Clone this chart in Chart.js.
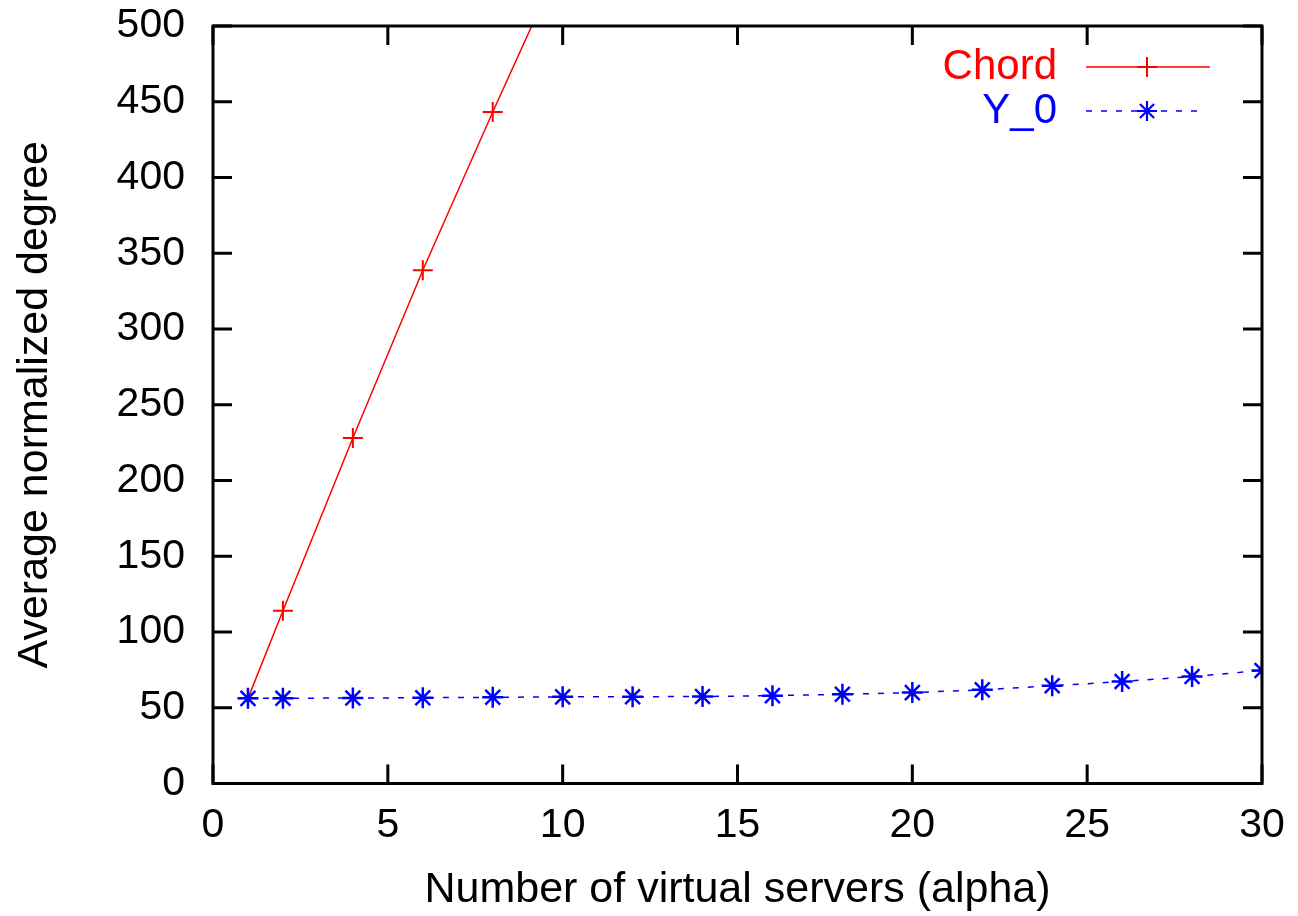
<!DOCTYPE html>
<html>
<head>
<meta charset="utf-8">
<script src="https://cdn.jsdelivr.net/npm/chart.js@4/dist/chart.umd.min.js"></script>
<style>
  html, body { margin: 0; padding: 0; background: #ffffff; }
  #wrap { width: 1298px; height: 916px; position: relative; }
</style>
</head>
<body>
<div id="wrap"><canvas id="c" width="1298" height="916"></canvas></div>
<script>
// ---- Data ----
const chordX = [1, 2, 4, 6, 8, 10];
const chordY = [56.2, 114.0, 228.0, 338.8, 443.2, 545.0];
const y0X = [1, 2, 4, 6, 8, 10, 12, 14, 16, 18, 20, 22, 24, 26, 28, 30];
const y0Y = [56.2, 56.3, 56.4, 56.6, 56.9, 57.2, 57.3, 57.4, 58.0, 58.9, 60.0, 61.8, 64.5, 67.3, 70.6, 74.6];
const seriesNames = ['Chord', 'Y_0'];
const xTitle = 'Number of virtual servers (alpha)';
const yTitle = 'Average normalized degree';
const xMin = 0, xMax = 30, xStep = 5;
const yMin = 0, yMax = 500, yStep = 50;

const FONT = "'Liberation Sans', Arial, Helvetica, sans-serif";
const RED = '#ff0000';
const BLUE = '#0000ff';

function toPoints(xs, ys) { return xs.map((x, i) => ({ x: x, y: ys[i] })); }

// Frame, inward ticks and key
const gnuplotFrame = {
  id: 'gnuplotFrame',
  afterDatasetsDraw(chart) {
    const ctx = chart.ctx;
    const a = chart.chartArea;
    const xs = chart.scales.x, ys = chart.scales.y;
    const tl = 19;
    ctx.save();
    ctx.strokeStyle = '#000';
    ctx.lineWidth = 3;
    ctx.lineCap = 'butt';
    ctx.beginPath();
    xs.ticks.forEach(t => {
      const px = xs.getPixelForValue(t.value);
      ctx.moveTo(px, a.bottom); ctx.lineTo(px, a.bottom - tl);
      ctx.moveTo(px, a.top); ctx.lineTo(px, a.top + tl);
    });
    ys.ticks.forEach(t => {
      const py = ys.getPixelForValue(t.value);
      ctx.moveTo(a.left, py); ctx.lineTo(a.left + tl, py);
      ctx.moveTo(a.right, py); ctx.lineTo(a.right - tl, py);
    });
    ctx.stroke();
    ctx.lineJoin = 'miter';
    ctx.strokeRect(a.left, a.top, a.right - a.left, a.bottom - a.top);

    // key (legend)
    const textRight = a.right - 205;
    const lineStart = a.right - 176;
    const markX = a.right - 115;
    const rows = [
      { y: a.top + 41, color: RED, dash: [], end: a.right - 52, style: 'cross', bw: 2 },
      { y: a.top + 85, color: BLUE, dash: [6, 9], end: a.right - 62, style: 'star', bw: 2.2 }
    ];
    ctx.font = '42px ' + FONT;
    ctx.textAlign = 'right';
    ctx.textBaseline = 'middle';
    rows.forEach((r, i) => {
      ctx.fillStyle = r.color;
      ctx.fillText(seriesNames[i], textRight, r.y);
      ctx.strokeStyle = r.color;
      ctx.lineWidth = 1.5;
      ctx.setLineDash(r.dash);
      ctx.beginPath();
      ctx.moveTo(lineStart, r.y); ctx.lineTo(r.end, r.y);
      ctx.stroke();
      ctx.setLineDash([]);
      ctx.lineWidth = r.bw;
      Chart.helpers.drawPoint(ctx, { pointStyle: r.style, radius: 10, rotation: 0, borderWidth: r.bw }, markX, r.y);
    });
    ctx.restore();
  }
};

new Chart(document.getElementById('c'), {
  type: 'scatter',
  data: {
    datasets: [
      {
        label: seriesNames[0],
        data: toPoints(chordX, chordY),
        order: 2,
        showLine: true,
        borderColor: RED,
        backgroundColor: RED,
        borderWidth: 1.5,
        pointStyle: 'cross',
        pointRadius: 10,
        pointBorderWidth: 2,
        pointBorderColor: RED,
        tension: 0
      },
      {
        label: seriesNames[1],
        data: toPoints(y0X, y0Y),
        order: 1,
        showLine: true,
        borderColor: BLUE,
        backgroundColor: BLUE,
        borderWidth: 1.5,
        borderDash: [6, 9],
        pointStyle: 'star',
        pointRadius: 10.5,
        pointBorderWidth: 2.5,
        pointBorderColor: BLUE,
        tension: 0
      }
    ]
  },
  options: {
    responsive: false,
    animation: false,
    events: [],
    layout: { padding: { top: 26, right: 36, left: 0, bottom: 0 } },
    plugins: {
      legend: { display: false },
      tooltip: { enabled: false },
      title: { display: false }
    },
    scales: {
      x: {
        type: 'linear',
        min: xMin, max: xMax,
        grid: { display: false, drawTicks: false },
        border: { display: false },
        ticks: {
          stepSize: xStep,
          color: '#000',
          padding: 18,
          maxRotation: 0,
          font: { family: FONT, size: 41 }
        },
        title: {
          display: true,
          text: xTitle,
          color: '#000',
          font: { family: FONT, size: 43 },
          padding: { top: 0, bottom: 0 }
        },
        afterFit(scale) {
          scale.height = 132.5;
          scale.paddingLeft = 0;
          scale.paddingRight = 0;
        }
      },
      y: {
        type: 'linear',
        min: yMin, max: yMax,
        grid: { display: false, drawTicks: false },
        border: { display: false },
        ticks: {
          stepSize: yStep,
          color: '#000',
          padding: 28,
          font: { family: FONT, size: 41 }
        },
        title: {
          display: true,
          text: yTitle,
          color: '#000',
          font: { family: FONT, size: 43 },
          padding: { top: 9, bottom: 0 }
        },
        afterFit(scale) {
          scale.width = 213;
          scale.paddingTop = 0;
          scale.paddingBottom = 0;
        }
      }
    }
  },
  plugins: [gnuplotFrame]
});
</script>
</body>
</html>
